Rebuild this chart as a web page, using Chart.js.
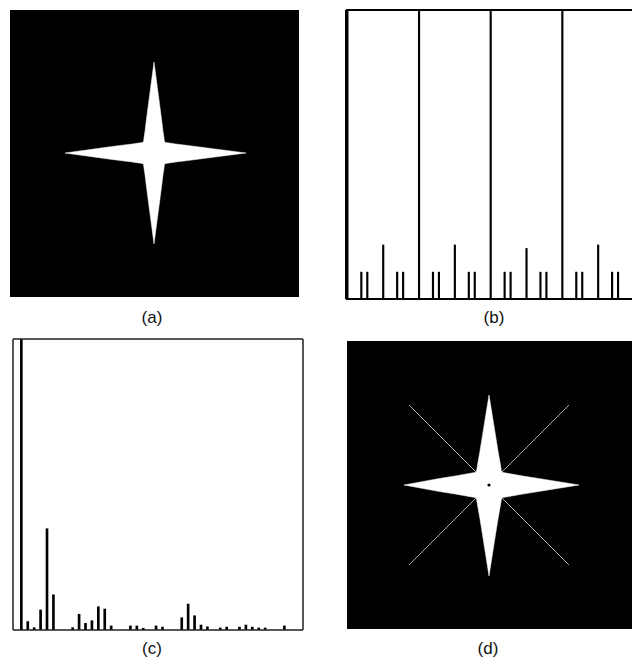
<!DOCTYPE html>
<html>
<head>
<meta charset="utf-8">
<script src="https://cdn.jsdelivr.net/npm/chart.js@4.4.0/dist/chart.umd.min.js"></script>
<style>
  html, body { margin: 0; padding: 0; background: #fff; overflow: hidden; }
  body { width: 632px; height: 660px; position: relative; }
  .panel { position: absolute; }
  .panel canvas { display: block; }
  .cap { position: absolute; width: 60px; text-align: center; color: #111;
         font: 17px "Liberation Sans", Arial, sans-serif; line-height: 20px; }
</style>
</head>
<body>
<div class="panel" style="left:10px;top:10px;width:289px;height:287px;background:#000"><canvas id="chartA"></canvas></div>
<div class="panel" style="left:344px;top:8px;width:290px;height:293px"><canvas id="chartB"></canvas></div>
<div class="panel" style="left:11px;top:337px;width:294px;height:295px"><canvas id="chartC"></canvas></div>
<div class="panel" style="left:347px;top:341px;width:285px;height:288px;background:#000"><canvas id="chartD"></canvas></div>
<div class="cap" style="left:122px;top:308px">(a)</div>
<div class="cap" style="left:464px;top:308px">(b)</div>
<div class="cap" style="left:122px;top:639px">(c)</div>
<div class="cap" style="left:458px;top:639px">(d)</div>
<script>
// angles (degrees, clockwise from top) at which the star outline is sampled
const angles = [0, 7.5, 15, 22.5, 30, 37.5, 45, 52.5, 60, 67.5, 75, 82.5,
                90, 97.5, 105, 112.5, 120, 127.5, 135, 142.5, 150, 157.5, 165, 172.5,
                180, 187.5, 195, 202.5, 210, 217.5, 225, 232.5, 240, 247.5, 255, 262.5,
                270, 277.5, 285, 292.5, 300, 307.5, 315, 322.5, 330, 337.5, 345, 352.5];

// (a) original star, radius at each angle
const starA = [91, 46, 31, 23.5, 19.5, 16.8, 15.2, 16.8, 19.5, 23.5, 31, 46,
               92, 46, 31, 23.5, 19.5, 16.8, 15.2, 16.8, 19.5, 23.5, 31, 46,
               91, 46, 31, 23.5, 19.5, 16.8, 15.2, 16.8, 19.5, 23.5, 31, 46,
               89, 46, 31, 23.5, 19.5, 16.8, 15.2, 16.8, 19.5, 23.5, 31, 46];

// (b) comb spectrum: positions and amplitudes
const combPos = [0, 7, 10, 18, 25, 28, 36, 43, 46, 54, 61, 64,
                 72, 79, 82, 90, 97, 100, 108, 115, 118, 126, 133, 136];
const combAmp = [100, 9.3, 9.3, 18.7, 9.3, 9.3, 100, 9.3, 9.3, 18.7, 9.3, 9.3,
                 100, 9.3, 9.3, 17.5, 9.3, 9.3, 100, 9.3, 9.3, 18.7, 9.3, 9.3];

// (c) spectrum bins and amplitudes
const specBin = [0, 1, 2, 3, 4, 5, 8, 9, 10, 11, 12, 13, 14, 17, 18, 19, 21, 22,
                 25, 26, 27, 28, 29, 31, 32, 34, 35, 36, 37, 38, 41];
const specAmp = [100, 2.9, 0.8, 6.9, 34.8, 12.1, 0.8, 5.4, 2.3, 3.2, 8.0, 7.2, 1.4, 1.4, 1.4, 0.6, 1.4, 1.0,
                 4.2, 8.9, 4.9, 1.7, 1.1, 0.7, 1.0, 1.0, 1.7, 1.0, 0.7, 0.7, 1.4];

// (d) reconstructed star and the diagonal rays
const starD = [90, 50, 35, 27.5, 23, 20, 18, 20, 23, 27.5, 35, 50,
               90, 50, 35, 27.5, 23, 20, 18, 20, 23, 27.5, 35, 50,
               91, 50, 35, 27.5, 23, 20, 18, 20, 23, 27.5, 35, 50,
               85, 50, 35, 27.5, 23, 20, 18, 20, 23, 27.5, 35, 50];
const rays = [0, 0, 0, 0, 0, 0, 113, 0, 0, 0, 0, 0,
              0, 0, 0, 0, 0, 0, 113, 0, 0, 0, 0, 0,
              0, 0, 0, 0, 0, 0, 113, 0, 0, 0, 0, 0,
              0, 0, 0, 0, 0, 0, 113, 0, 0, 0, 0, 0];
const centreDot = [0];

// draws a box round the plot area (only the sides asked for)
const framePlugin = {
    id: 'frame',
    afterDatasetsDraw(chart, args, opts) {
        const { ctx, chartArea: a } = chart;
        const sides = opts.sides || 'tlbr';
        ctx.save();
        ctx.strokeStyle = opts.color || '#000';
        ctx.lineWidth = opts.width || 1.5;
        ctx.beginPath();
        if (sides.includes('t')) { ctx.moveTo(a.left, a.top); ctx.lineTo(a.right, a.top); }
        if (sides.includes('l')) { ctx.moveTo(a.left, a.top); ctx.lineTo(a.left, a.bottom); }
        if (sides.includes('b')) { ctx.moveTo(a.left, a.bottom); ctx.lineTo(a.right, a.bottom); }
        if (sides.includes('r')) { ctx.moveTo(a.right, a.top); ctx.lineTo(a.right, a.bottom); }
        ctx.stroke();
        ctx.restore();
    }
};

const quiet = { legend: { display: false }, tooltip: { enabled: false } };

function radarScale(max) {
    return {
        r: {
            min: 0, max: max,
            ticks: { display: false },
            grid: { display: false },
            angleLines: { display: false },
            pointLabels: { display: false }
        }
    };
}

// (a)
new Chart(document.getElementById('chartA'), {
    type: 'radar',
    data: {
        labels: angles,
        datasets: [{
            data: starA,
            fill: true,
            backgroundColor: '#fff',
            borderColor: '#fff',
            borderWidth: 0.5,
            pointRadius: 0
        }]
    },
    options: {
        animation: false,
        responsive: true,
        maintainAspectRatio: false,
        plugins: quiet,
        scales: radarScale(143)
    }
});

// (b)
new Chart(document.getElementById('chartB'), {
    type: 'bar',
    data: {
        datasets: [{
            data: combPos.map((x, i) => ({ x: x, y: combAmp[i] })),
            backgroundColor: '#000',
            borderWidth: 0,
            barThickness: 1.5
        }]
    },
    options: {
        animation: false,
        responsive: true,
        maintainAspectRatio: false,
        layout: { padding: 2 },
        plugins: { ...quiet, frame: { sides: 'tlb', width: 2 } },
        scales: {
            x: { type: 'linear', min: -0.7, max: 143, offset: false, display: false },
            y: { min: 0, max: 100, display: false }
        }
    },
    plugins: [framePlugin]
});

// (c)
new Chart(document.getElementById('chartC'), {
    type: 'bar',
    data: {
        datasets: [{
            data: specBin.map((x, i) => ({ x: x, y: specAmp[i] })),
            backgroundColor: '#000',
            borderWidth: 0,
            barThickness: 2
        }]
    },
    options: {
        animation: false,
        responsive: true,
        maintainAspectRatio: false,
        layout: { padding: 2 },
        plugins: { ...quiet, frame: { sides: 'tlbr', width: 1.5, color: '#222' } },
        scales: {
            x: { type: 'linear', min: -1.3, max: 43.9, offset: false, display: false },
            y: { min: 0, max: 100, display: false }
        }
    },
    plugins: [framePlugin]
});

// (d)
new Chart(document.getElementById('chartD'), {
    type: 'radar',
    data: {
        labels: angles,
        datasets: [{
            data: centreDot,
            showLine: false,
            pointRadius: 1.6,
            pointBackgroundColor: '#000',
            pointBorderWidth: 0
        }, {
            data: starD,
            fill: true,
            backgroundColor: '#fff',
            borderColor: '#fff',
            borderWidth: 0.5,
            pointRadius: 0
        }, {
            data: rays,
            fill: false,
            borderColor: 'rgba(200,200,200,0.75)',
            borderWidth: 0.8,
            pointRadius: 0
        }]
    },
    options: {
        animation: false,
        responsive: true,
        maintainAspectRatio: false,
        plugins: quiet,
        scales: radarScale(142)
    }
});
</script>
</body>
</html>
